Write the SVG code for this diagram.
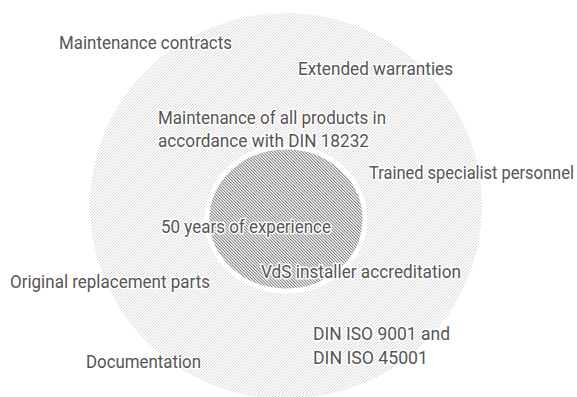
<svg xmlns="http://www.w3.org/2000/svg" width="577" height="397" viewBox="0 0 577 397">
<style>
text{font-family:"Roboto","Liberation Sans",sans-serif;font-size:18.5px;fill:#555555;stroke:#fff;stroke-width:3px;stroke-linejoin:round;paint-order:stroke fill;}
</style>
<defs>
<pattern id="outerHatch" patternUnits="userSpaceOnUse" width="3" height="3">
<rect width="3" height="3" fill="#fdfdfd"/>
<path d="M0 2h1v1h-1zM1 1h1v1h-1zM2 0h1v1h-1z" fill="#d8d8d8"/>
</pattern>
<pattern id="innerHatch" patternUnits="userSpaceOnUse" width="3" height="3">
<rect width="3" height="3" fill="#f0f0f0"/>
<path d="M0 0h1v1h-1zM1 1h1v1h-1zM2 2h1v1h-1z" fill="#8e8e8e"/>
<path d="M1 0h1v1h-1zM2 1h1v1h-1zM0 2h1v1h-1z" fill="#c6c6c6"/>
</pattern>
</defs>
<g id="outer-circle">
<ellipse cx="286" cy="206" rx="196" ry="193" fill="url(#outerHatch)"/>
</g>
<g id="inner-circle">
<ellipse cx="286" cy="219" rx="79" ry="72" fill="url(#innerHatch)" stroke="#fff" stroke-width="5"/>
</g>
<g id="connectors"></g>
<g id="label-maintenance-contracts"><text x="59" y="49" textLength="173" lengthAdjust="spacingAndGlyphs">Maintenance contracts</text></g>
<g id="label-extended-warranties"><text x="298" y="75" textLength="155" lengthAdjust="spacingAndGlyphs">Extended warranties</text></g>
<g id="label-maintenance-din"><text x="158" y="124" textLength="228" lengthAdjust="spacingAndGlyphs">Maintenance of all products in</text><text x="158" y="147" textLength="211" lengthAdjust="spacingAndGlyphs">accordance with DIN 18232</text></g>
<g id="label-trained-personnel"><text transform="translate(369 179) scale(0.89 1)" x="0" y="0">Trained specialist personnel</text></g>
<g id="label-50-years"><text x="161" y="233" textLength="170" lengthAdjust="spacingAndGlyphs">50 years of experience</text></g>
<g id="label-vds"><text x="261" y="278" textLength="200" lengthAdjust="spacingAndGlyphs">VdS installer accreditation</text></g>
<g id="label-replacement-parts"><text x="10" y="288" textLength="200" lengthAdjust="spacingAndGlyphs">Original replacement parts</text></g>
<g id="label-din-iso"><text x="313" y="340" textLength="137" lengthAdjust="spacingAndGlyphs">DIN ISO 9001 and</text><text x="313" y="364" textLength="115" lengthAdjust="spacingAndGlyphs">DIN ISO 45001</text></g>
<g id="label-documentation"><text x="86" y="368" textLength="115" lengthAdjust="spacingAndGlyphs">Documentation</text></g>
</svg>
